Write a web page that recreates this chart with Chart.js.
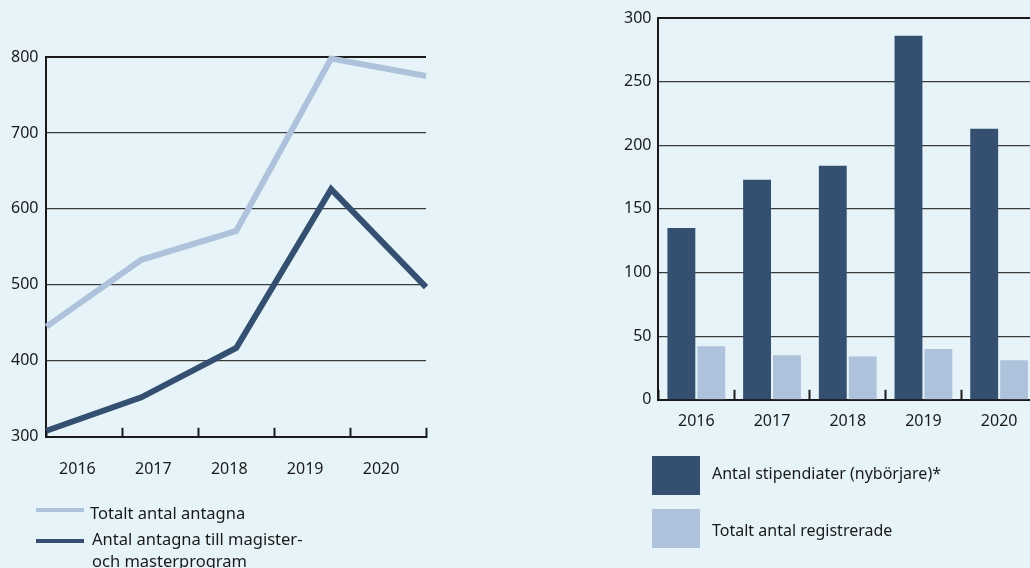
<!DOCTYPE html>
<html><head><meta charset="utf-8">
<script src="https://cdn.jsdelivr.net/npm/chart.js@4.4.1/dist/chart.umd.min.js"></script>
<style>
html,body{margin:0;padding:0;width:1030px;height:568px;overflow:hidden;background:#e6f4f9;font-family:"Noto Sans",sans-serif;color:#1a1a1a;}
#lw{position:absolute;left:0;top:0;width:440px;height:513px;}
#rw{position:absolute;left:600px;top:0;width:440px;height:463px;}
.txt{position:absolute;font-size:16px;line-height:22px;white-space:nowrap;}
.sw{position:absolute;}
</style></head><body>
<div id="lw"><canvas id="lc"></canvas></div>
<div id="rw"><canvas id="rc"></canvas></div>
<div id="legends"></div>
<script>
const years = ['2016','2017','2018','2019','2020'];
const totalAntagna = [445, 533, 571, 798, 775];
const magisterMaster = [308, 352, 417, 626, 497];
const lineNames = ['Totalt antal antagna', 'Antal antagna till magister-\noch masterprogram'];
const stipendiater = [135, 173, 184, 286, 213];
const registrerade = [42, 35, 34, 40, 31];
const barNames = ['Antal stipendiater (nybörjare)*', 'Totalt antal registrerade'];

const DARK = '#344f6f';
const LIGHT = '#aec2dc';
const INK = '#1a1a1a';
const FONT = {family:'"Noto Sans", sans-serif', size:16};

// Left line chart
new Chart(document.getElementById('lc'), {
  type:'line',
  data:{labels:years, datasets:[
    {label:lineNames[0], data:totalAntagna, borderColor:LIGHT, borderWidth:6, pointRadius:0, tension:0, xAxisID:'xd', clip:false, borderCapStyle:'butt'},
    {label:lineNames[1], data:magisterMaster, borderColor:DARK, borderWidth:6, pointRadius:0, tension:0, xAxisID:'xd', clip:false, borderCapStyle:'butt'}
  ]},
  options:{
    responsive:true, maintainAspectRatio:false, animation:false,
    layout:{padding:{left:3, top:57, right:14, bottom:2}},
    plugins:{legend:{display:false}, tooltip:{enabled:false}},
    scales:{
      xd:{type:'category', display:false, offset:false},
      x:{type:'category', position:'bottom', offset:true,
         grid:{offset:true, drawOnChartArea:false, tickLength:-9, tickWidth:2, tickColor:INK},
         border:{color:INK, width:2},
         ticks:{labelOffset:-7, padding:32, font:FONT, color:INK}},
      y:{min:300, max:800,
         ticks:{stepSize:100, padding:8, font:FONT, color:INK},
         grid:{drawTicks:false, color:(c)=> c.tick && c.tick.value===800 ? INK : '#3c3c3c', lineWidth:(c)=> c.tick && c.tick.value===800 ? 2 : 1.3},
         border:{color:INK, width:2}}
    }
  }
});

// Right bar chart
new Chart(document.getElementById('rc'), {
  type:'bar',
  data:{labels:years, datasets:[
    {label:barNames[0], data:stipendiater, backgroundColor:DARK, categoryPercentage:0.79, barPercentage:0.933},
    {label:barNames[1], data:registrerade, backgroundColor:LIGHT, categoryPercentage:0.79, barPercentage:0.933}
  ]},
  options:{
    responsive:true, maintainAspectRatio:false, animation:false,
    layout:{padding:{left:17, top:18, right:3, bottom:10}},
    plugins:{legend:{display:false}, tooltip:{enabled:false}},
    scales:{
      x:{offset:true,
         grid:{offset:true, drawOnChartArea:false, tickLength:-10, tickWidth:2, tickColor:INK},
         border:{color:INK, width:2},
         ticks:{padding:22, font:FONT, color:INK}},
      y:{min:0, max:300,
         ticks:{stepSize:50, padding:7, font:FONT, color:INK},
         grid:{drawTicks:false, color:(c)=> c.tick && c.tick.value===300 ? INK : '#3c3c3c', lineWidth:(c)=> c.tick && c.tick.value===300 ? 2 : 1.3},
         border:{color:INK, width:2}}
    }
  }
});

// HTML legends built from series names
const lg = document.getElementById('legends');
function add(tag, cls, style, text){
  const d = document.createElement(tag); d.className = cls;
  Object.assign(d.style, style);
  if (text !== undefined) d.innerText = text;
  lg.appendChild(d);
}
add('div','sw',{left:'36px',top:'508px',width:'48px',height:'4px',background:LIGHT});
add('div','txt',{left:'90px',top:'502px',fontSize:'16.5px'}, lineNames[0]);
add('div','sw',{left:'36px',top:'539px',width:'48px',height:'4px',background:DARK});
add('div','txt',{left:'92px',top:'528px',fontSize:'16.5px'}, lineNames[1]);
add('div','sw',{left:'652px',top:'456px',width:'48px',height:'39px',background:DARK});
add('div','txt',{left:'712px',top:'462px'}, barNames[0]);
add('div','sw',{left:'652px',top:'509px',width:'48px',height:'39px',background:LIGHT});
add('div','txt',{left:'712px',top:'519px'}, barNames[1]);
</script>
</body></html>
